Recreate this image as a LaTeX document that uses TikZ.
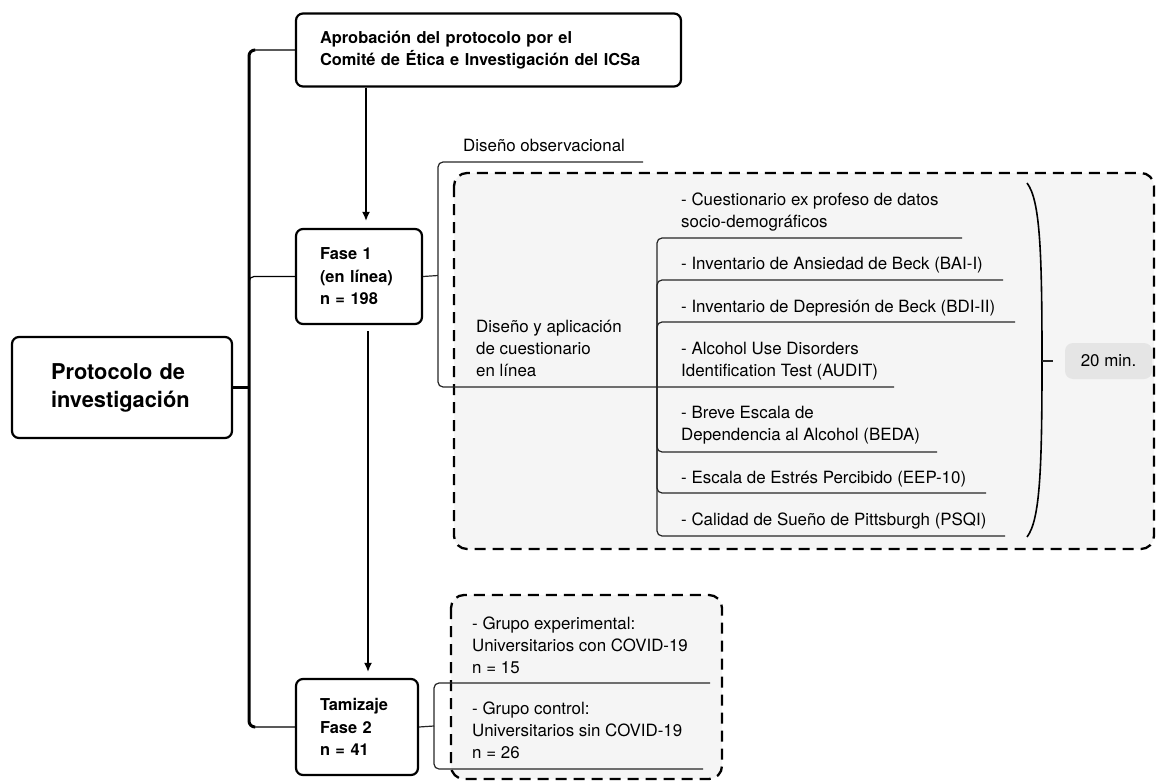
\documentclass[tikz,border=0pt]{standalone}
\usepackage{fontspec}
\setmainfont{TeX Gyre Heros}
\usetikzlibrary{arrows.meta}

\tikzset{
  mainbox/.style={draw, line width=2.2pt, rounded corners=7pt, inner xsep=24pt, inner ysep=0pt,
                  align=left, font=\bfseries\fontsize{16.4}{22.5}\selectfont},
  lbl/.style={inner sep=0pt, anchor=base west, align=left,
              font=\fontsize{16.9}{22}\selectfont},
  twig/.style={line width=1.2pt, rounded corners=5pt, black!85},
  trunk/.style={line width=3pt, rounded corners=6pt},
  dashbox/.style={line width=2.3pt, dash pattern=on 11pt off 7pt, rounded corners=13pt, fill=black!4},
  arw/.style={line width=1.5pt, -{Latex[length=9pt,width=8pt]}},
}

\begin{document}
\begin{tikzpicture}[x=1pt, y=-1pt]
\useasboundingbox (0,0) rectangle (1156,781);

% dashed groups
\draw[dashbox] (454,173) rectangle (1154,549);
\draw[dashbox] (451,595) rectangle (722,779);

% main boxes
\node[mainbox, inner xsep=39pt, text width=142, minimum height=101,
      font=\bfseries\fontsize{21.8}{28}\selectfont] (root) at (122,387.5) {Protocolo de\\investigación};
\node[mainbox, text width=337, minimum height=73] (appr) at (488.5,50)
      {Aprobación del protocolo por el\\Comité de Ética e Investigación del ICSa};
\node[mainbox, text width=78, minimum height=95] (fase1) at (359,276.5) {Fase 1\\(en línea)\\n = 198};
\node[mainbox, text width=74, minimum height=96] (tamiz) at (357,727) {Tamizaje\\Fase 2\\n = 41};

% labels (anchored on the last baseline)
\node[lbl] (obs) at (463,151) {Diseño observacional};
\node[lbl] (quest) at (476,376) {Diseño y aplicación\\de cuestionario\\en línea};

\node[lbl] (socio) at (681,227) {- Cuestionario ex profeso de datos\\socio-demográficos};
\node[lbl] (bai) at (681,269) {- Inventario de Ansiedad de Beck (BAI-I)};
\node[lbl] (bdi) at (681,312) {- Inventario de Depresión de Beck (BDI-II)};
\node[lbl] (audit) at (681,376) {- Alcohol Use Disorders\\Identification Test (AUDIT)};
\node[lbl] (beda) at (681,440) {- Breve Escala de\\Dependencia al Alcohol (BEDA)};
\node[lbl] (eep) at (681,483) {- Escala de Estrés Percibido (EEP-10)};
\node[lbl] (psqi) at (681,525) {- Calidad de Sueño de Pittsburgh (PSQI)};

\node[lbl] (gexp) at (472,673) {- Grupo experimental:\\Universitarios con COVID-19\\n = 15};
\node[lbl] (gctl) at (472,758) {- Grupo control:\\Universitarios sin COVID-19\\n = 26};

\node[fill=black!10, rounded corners=8pt, minimum width=87, minimum height=36, inner sep=0pt,
      font=\fontsize{16.9}{22}\selectfont] (mins) at (1108.5,361) {20 min.};

% ends of the underlines
\coordinate (obs-end) at (643,162);
\coordinate (socio-end) at (962,238);
\coordinate (bai-end) at (1003,280);
\coordinate (bdi-end) at (1015,322);
\coordinate (audit-end) at (894,387);
\coordinate (beda-end) at (937,452);
\coordinate (eep-end) at (986,493);
\coordinate (psqi-end) at (1005,536);
\coordinate (gexp-end) at (710,683);
\coordinate (gctl-end) at (703,769);

% hubs
\coordinate (hub) at (249,387.5);
\coordinate (fhub) at (438,275.5);
\coordinate (qhub) at (657,387);
\coordinate (thub) at (434,726);

% trunk
\draw[trunk] (root.east) -- (hub);
\foreach \n in {appr,fase1,tamiz}
  \draw[twig, black] (hub) |- (\n.west);
\draw[trunk] ([xshift=-40pt]appr.west) -| (hub) |- ([xshift=-40pt]tamiz.west);

\draw[arw, shorten >=7pt] ([xshift=7pt]fase1.north |- appr.south) -- ([xshift=7pt]fase1.north);
\draw[arw, shorten <=6pt, shorten >=6pt] ([xshift=9pt]fase1.south) -- ([xshift=9pt]fase1.south |- tamiz.north);

% fase 1 branches
\draw[twig] (fase1.east) -- (fhub);
\draw[twig] (fhub) |- (obs-end);
\draw[twig] (fhub) |- (qhub) -- (audit-end);
\foreach \e in {socio,bai,bdi,beda,eep,psqi}
  \draw[twig] (qhub) |- (\e-end);

% brace and time
\coordinate (btop) at (1027,183);
\coordinate (bmid) at (1042,361);
\coordinate (bbot) at (1027,537);
\draw[line width=1.6pt] (btop) .. controls (1040,200) and (1042,250) .. (bmid)
                              .. controls (1042,470) and (1040,520) .. (bbot);
\draw[twig] (bmid) -- ([xshift=-12pt]mins.west);

% fase 2 branches
\draw[twig] (tamiz.east) -- (thub);
\draw[twig] (thub) |- (gexp-end);
\draw[twig] (thub) |- (gctl-end);

\end{tikzpicture}
\end{document}
